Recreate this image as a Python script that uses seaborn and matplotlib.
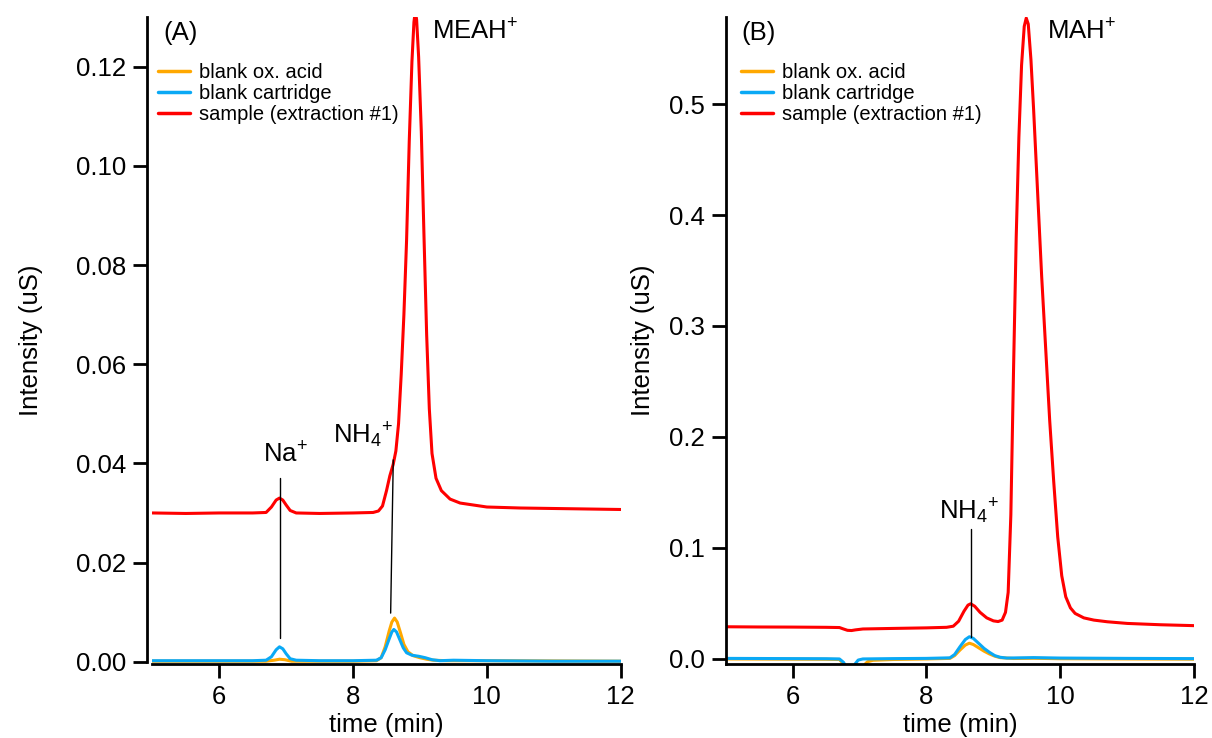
import numpy as np
import pandas as pd
import matplotlib
matplotlib.use("Agg")
import matplotlib.pyplot as plt
import seaborn as sns

# ---------------- data ----------------
series_names = ["blank ox. acid", "blank cartridge", "sample (extraction #1)"]
series_colors = ["#FFA800", "#0AA9F5", "#FF0000"]

# Panel A
a_orange_t = [5.0, 6.0, 6.7, 6.82, 6.90, 6.98, 7.08, 8.0, 8.35, 8.42, 8.48, 8.54, 8.58, 8.62, 8.66,
              8.71, 8.76, 8.82, 8.90, 9.0, 9.1, 9.2, 9.4, 10.0, 12.0]
a_orange_v = [0.0001, 0.0001, 0.0001, 0.0003, 0.0005, 0.0004, 0.0001, 0.0001, 0.0002, 0.0008, 0.0030,
              0.0062, 0.0080, 0.0088, 0.0080, 0.0058, 0.0035, 0.0020, 0.0012, 0.0008, 0.0005, 0.0003,
              0.0002, 0.0002, 0.0001]

a_blue_t = [5.0, 5.5, 6.0, 6.5, 6.70, 6.78, 6.85, 6.90, 6.95, 7.00, 7.06, 7.15, 7.5, 8.0, 8.35, 8.42,
            8.48, 8.54, 8.58, 8.61, 8.65, 8.70, 8.75, 8.80, 8.88, 8.98, 9.08, 9.18, 9.3, 9.5, 10.0,
            11.0, 12.0]
a_blue_v = [0.0002, 0.0002, 0.0002, 0.0002, 0.0003, 0.0010, 0.0024, 0.0030, 0.0026, 0.0016, 0.0006,
            0.0003, 0.0002, 0.0002, 0.0003, 0.0008, 0.0024, 0.0046, 0.0060, 0.0065, 0.0060, 0.0044,
            0.0028, 0.0018, 0.0013, 0.0011, 0.0008, 0.0004, 0.0002, 0.0003, 0.0002, 0.0001, 0.0001]

a_red_t = [5.0, 5.5, 6.0, 6.5, 6.70, 6.78, 6.85, 6.90, 6.95, 7.00, 7.06, 7.15, 7.5, 8.0, 8.30, 8.38,
           8.44, 8.50, 8.55, 8.60, 8.64, 8.68, 8.72, 8.76, 8.80, 8.84, 8.88, 8.91, 8.93, 8.95, 8.98,
           9.02, 9.06, 9.10, 9.14, 9.18, 9.24, 9.32, 9.45, 9.6, 9.8, 10.0, 10.5, 11.0, 11.5, 12.0]
a_red_v = [0.0300, 0.0299, 0.0300, 0.0300, 0.0301, 0.0312, 0.0326, 0.0330, 0.0326, 0.0316, 0.0305,
           0.0300, 0.0299, 0.0300, 0.0301, 0.0304, 0.0314, 0.0345, 0.0375, 0.0398, 0.0425, 0.0480,
           0.0580, 0.0700, 0.0850, 0.1050, 0.1210, 0.1290, 0.1312, 0.1295, 0.1220, 0.1070, 0.0860,
           0.0660, 0.0510, 0.0420, 0.0370, 0.0345, 0.0328, 0.0320, 0.0316, 0.0312, 0.0310, 0.0309,
           0.0308, 0.0307]

# Panel B
b_orange_t = [5.0, 6.0, 6.5, 6.70, 6.78, 6.84, 6.92, 7.00, 7.06, 7.12, 7.2, 7.5, 8.0, 8.35, 8.42,
              8.50, 8.58, 8.64, 8.70, 8.78, 8.86, 8.94, 9.02, 9.10, 9.3, 9.6, 10.0, 12.0]
b_orange_v = [0.0000, -0.0002, -0.0003, -0.0005, -0.0060, -0.0120, -0.0150, -0.0110, -0.0060, -0.0025,
              -0.0012, -0.0005, 0.0000, 0.0005, 0.0030, 0.0080, 0.0125, 0.0142, 0.0130, 0.0100,
              0.0070, 0.0045, 0.0025, 0.0012, 0.0004, 0.0006, 0.0002, -0.0002]

b_blue_t = [5.0, 6.0, 6.5, 6.70, 6.76, 6.80, 6.86, 6.90, 6.94, 6.98, 7.05, 7.5, 8.0, 8.35, 8.42, 8.50,
            8.58, 8.64, 8.70, 8.78, 8.86, 8.94, 9.02, 9.10, 9.2, 9.4, 9.6, 10.0, 11.0, 12.0]
b_blue_v = [0.0005, 0.0003, 0.0002, 0.0000, -0.0030, -0.0070, -0.0100, -0.0080, -0.0040, -0.0010,
            0.0000, 0.0003, 0.0005, 0.0010, 0.0040, 0.0110, 0.0175, 0.0200, 0.0185, 0.0140, 0.0095,
            0.0060, 0.0030, 0.0015, 0.0008, 0.0010, 0.0012, 0.0008, 0.0005, 0.0003]

b_red_t = [5.0, 5.5, 6.0, 6.5, 6.70, 6.76, 6.82, 6.88, 6.94, 7.05, 7.5, 8.0, 8.30, 8.40, 8.48, 8.56,
           8.62, 8.66, 8.72, 8.80, 8.90, 9.00, 9.07, 9.13, 9.18, 9.22, 9.26, 9.30, 9.34, 9.38, 9.42,
           9.46, 9.49, 9.52, 9.56, 9.60, 9.66, 9.72, 9.78, 9.84, 9.90, 9.96, 10.02, 10.08, 10.15,
           10.22, 10.35, 10.5, 10.7, 11.0, 11.5, 12.0]
b_red_v = [0.0290, 0.0288, 0.0287, 0.0285, 0.0283, 0.0270, 0.0258, 0.0256, 0.0262, 0.0270, 0.0275,
           0.0280, 0.0285, 0.0295, 0.0340, 0.0430, 0.0485, 0.0497, 0.0475, 0.0420, 0.0370, 0.0343,
           0.0337, 0.0350, 0.0420, 0.0600, 0.1300, 0.2600, 0.3800, 0.4700, 0.5350, 0.5700, 0.5775,
           0.5720, 0.5400, 0.4950, 0.4200, 0.3450, 0.2800, 0.2150, 0.1600, 0.1100, 0.0750, 0.0560,
           0.0460, 0.0410, 0.0370, 0.0350, 0.0335, 0.0320, 0.0308, 0.0300]

# axes ranges and ticks
x_limits = (5, 12)
x_ticks = [6, 8, 10, 12]
a_ylim = (-0.00052, 0.1301)
a_yticks = [0.00, 0.02, 0.04, 0.06, 0.08, 0.10, 0.12]
b_ylim = (-0.0048, 0.5787)
b_yticks = [0.0, 0.1, 0.2, 0.3, 0.4, 0.5]

# peak annotations: label, label position (x, y), pointer line (x0, y0, x1, y1)
a_annotations = [
    ("$Na^{+}$", (6.65, 0.0401), (6.907, 0.0370, 6.907, 0.0048)),
    ("$NH_4{}^{+}$", (7.70, 0.0441), (8.601, 0.0407, 8.562, 0.0098)),
]
b_annotations = [
    ("$NH_4{}^{+}$", (8.19, 0.1258), (8.665, 0.117, 8.665, 0.0201)),
]
a_panel_label, a_peak_label = "(A)", "$MEAH^{+}$"
b_panel_label, b_peak_label = "(B)", "$MAH^{+}$"


def make_frame(ts, vs):
    parts = []
    for name, t, v in zip(series_names, ts, vs):
        parts.append(pd.DataFrame({"time": t, "value": v, "series": name}))
    return pd.concat(parts, ignore_index=True)


df_a = make_frame([a_orange_t, a_blue_t, a_red_t], [a_orange_v, a_blue_v, a_red_v])
df_b = make_frame([b_orange_t, b_blue_t, b_red_t], [b_orange_v, b_blue_v, b_red_v])

# ---------------- style ----------------
sns.set_style("ticks")
plt.rcParams["font.family"] = ["Liberation Sans", "DejaVu Sans"]
plt.rcParams["mathtext.fontset"] = "custom"
plt.rcParams["mathtext.rm"] = "Liberation Sans"
plt.rcParams["mathtext.it"] = "Liberation Sans:italic"
plt.rcParams["mathtext.bf"] = "Liberation Sans:bold"
plt.rcParams["mathtext.default"] = "regular"
plt.rcParams["text.color"] = "black"
plt.rcParams["axes.labelcolor"] = "black"
plt.rcParams["xtick.color"] = "black"
plt.rcParams["ytick.color"] = "black"

TICK_FS = 18.5
LABEL_FS = 18.5
LEG_FS = 14.5

fig = plt.figure(figsize=(12.12, 7.38), dpi=100)
axA = fig.add_axes([0.1257, 0.0999, 0.3864, 0.8775])
axB = fig.add_axes([0.5987, 0.0999, 0.3867, 0.8775])

palette = dict(zip(series_names, series_colors))

for ax, df, ylim, yticks, fmt, annots, plabel, peak, peak_x, ylab_x, leg_x, plab_x in [
    (axA, df_a, a_ylim, a_yticks, "{:.2f}", a_annotations, a_panel_label, a_peak_label, 0.597, -0.234, 0.012, 0.0226),
    (axB, df_b, b_ylim, b_yticks, "{:.1f}", b_annotations, b_panel_label, b_peak_label, 0.686, -0.150, 0.033, 0.033),
]:
    sns.lineplot(data=df, x="time", y="value", hue="series", hue_order=series_names,
                 palette=palette, linewidth=2.2, ax=ax, estimator=None, sort=False,
                 legend=True)
    ax.set_xlim(*x_limits)
    ax.set_ylim(*ylim)
    ax.set_xticks(x_ticks)
    ax.set_xticklabels([str(t) for t in x_ticks])
    ax.set_yticks(yticks)
    ax.set_yticklabels([fmt.format(t) for t in yticks])
    for s in ["top", "right"]:
        ax.spines[s].set_visible(False)
    for s in ["left", "bottom"]:
        ax.spines[s].set_linewidth(2.0)
        ax.spines[s].set_color("black")
    ax.tick_params(direction="out", length=10, width=2.0, labelsize=TICK_FS, pad=5,
                   colors="black", labelcolor="black")
    ax.set_xlabel("time (min)", fontsize=LABEL_FS, color="black")
    ax.set_ylabel("Intensity (uS)", fontsize=LABEL_FS, color="black")
    ax.xaxis.set_label_coords(0.5, -0.076)
    ax.yaxis.set_label_coords(ylab_x, 0.5)

    # legend
    old = ax.get_legend()
    handles = list(old.legend_handles)
    labels = [t.get_text() for t in old.get_texts()]
    old.remove()
    for h, c in zip(handles, series_colors):
        h.set_color(c)
        h.set_linewidth(2.5)
    leg = ax.legend(handles, labels, loc="upper left", bbox_to_anchor=(leg_x, 0.929),
                    frameon=False, fontsize=LEG_FS, handlelength=1.6, handletextpad=0.45,
                    labelspacing=0.1, borderpad=0, borderaxespad=0)
    for t in leg.get_texts():
        t.set_color("black")

    ax.text(plab_x, 0.964, plabel, transform=ax.transAxes, fontsize=LABEL_FS, va="baseline",
            ha="left", color="black")
    ax.text(peak_x, 0.964, peak, transform=ax.transAxes, fontsize=LABEL_FS, va="baseline",
            ha="left", color="black")
    for lab, (tx, ty), (x0, y0, x1, y1) in annots:
        ax.text(tx, ty, lab, fontsize=LABEL_FS, va="baseline", ha="left", color="black")
        ax.plot([x0, x1], [y0, y1], color="black", linewidth=1.0)

axA.spines["left"].set_position(("outward", 4))
axA.spines["left"].set_bounds(0, a_ylim[1])

fig.savefig("out.png", dpi=100)
